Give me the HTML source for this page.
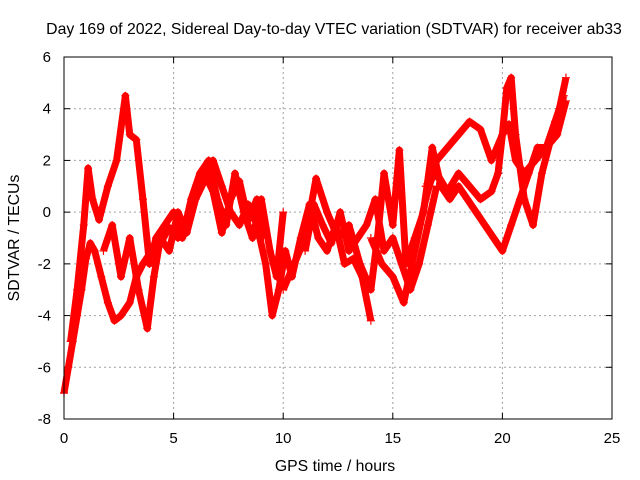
<!DOCTYPE html>
<html><head><meta charset="utf-8"><style>
body{margin:0;background:#fff;}
svg{display:block;font-family:"Liberation Sans",sans-serif;}
</style></head><body>
<svg id="chart" width="640" height="480" viewBox="0 0 640 480">
<rect width="640" height="480" fill="#fff"/>
<text x="334" y="34" font-size="15.8" text-anchor="middle">Day 169 of 2022, Sidereal Day-to-day VTEC variation (SDTVAR) for receiver ab33</text>
<text x="19" y="238" font-size="15.8" text-anchor="middle" transform="rotate(-90 19 238)">SDTVAR / TECUs</text>
<text x="335" y="471" font-size="15.8" text-anchor="middle">GPS time / hours</text>
<g id="grid"></g>
<g id="ticks"></g>
<g id="marks"></g>
<rect x="64" y="57" width="548" height="362" fill="none" stroke="#000" stroke-width="1"/>
</svg>
<script>
const xTicks=[0,5,10,15,20,25];
const yTicks=[-8,-6,-4,-2,0,2,4,6];
const t1=[0,0.2,0.4,0.6,0.8,1.0,1.2,1.4,1.7,2.0,2.3,2.6,3.0,3.3,3.6,4.0,4.4,4.8,5.2,5.6,6.0,6.4,6.8,7.2,7.6,8.0,8.4,8.8,9.2,9.5,9.8,10.1,10.4,10.8,11.2,11.6,12.0,12.4,12.8,13.2,13.6,14.0];
const v1=[-7,-6,-5,-4,-3,-1.8,-1.2,-1.5,-2.5,-3.5,-4.2,-4,-3.5,-2.5,-2,-1.5,-1.2,-0.6,-1,-0.3,0.5,1.2,2,1,0,-0.5,0.3,-0.5,-2,-4,-3,-1.5,-2.5,-1,0.3,-1,-1.5,-0.5,-2,-1.8,-2.5,-4.2];
const t2=[0.3,0.6,0.9,1.1,1.3,1.6,2.0,2.4,2.8,3.0,3.3,3.6,3.9,4.2,4.6,5.0,5.4,5.8,6.2,6.6,7.0,7.4,7.8,8.2,8.6,9.0,9.4,9.7,10.0];
const v2=[-5,-3,-0.5,1.7,0.5,-0.3,1,2,4.5,3,2.8,0.5,-2,-1,-0.5,0,-1,0.5,1.5,2,0.5,-0.5,1.5,0,-1,0.5,-1.5,-2.5,0];
const t3=[10,10.5,11,11.5,12,12.5,13,13.5,14,14.3,14.6,15,15.3,15.6,16,16.4,16.8,17.2,17.6,18,18.4,18.8,19.2,19.6,20,20.4,20.8,21.2,21.6,22,22.4,22.8];
const v3=[-3,-2,-1,1.3,0,-1,-0.5,-2,-3,-1,1.5,-0.5,2.4,-2,-1,0,2.5,1,0.5,1,0.5,0,-0.5,-1,-1.5,-0.5,0.5,1.5,2.5,2.5,3.5,4.5];
const t4=[14,14.5,15,15.5,16,16.5,17,17.5,18,18.5,19,19.5,20,20.3,20.6,21,21.5,22,22.5,22.9];
const v4=[-1,-2,-2.5,-3.5,-1.5,0.5,2,2.5,3,3.5,3.2,2,3,3.4,2,1.5,2,2.5,3,4.3];
const t5=[16.5,17,17.5,18,18.5,19,19.5,19.8,20,20.2,20.4,20.6,21,21.4,21.8,22.2,22.6,22.9];
const v5=[1,1.5,0.8,1.5,1,0.5,0.8,1.5,3,4.8,5.2,3,0.5,-0.5,1.5,2.8,4,5.2];
const t6=[1.8,2.2,2.6,3.0,3.4,3.8,4.1,4.4,4.8,5.2,5.6,6.0,6.4,6.8,7.2,7.6,8.0,8.4,8.8,9.1];
const v6=[-1.5,-0.5,-2.5,-1,-3,-4.5,-2.5,-1,-1.5,0,-0.8,0.5,1.5,0.8,-0.8,0.5,1.2,-0.3,0.5,-1];
const t7=[11,11.4,11.8,12.2,12.6,13,13.4,13.8,14.2,14.6,15,15.4,15.8,16.2,16.6,17];
const v7=[-1.5,0.3,-0.5,-1.2,0,-1.5,-1,-0.5,0.5,-1.5,-1,-2,-3,-2,-0.5,1];

const X0=64,X1=612,Y0=419,Y1=57;
const xs=t=>X0+(t-0)/(25-0)*(X1-X0);
const ys=v=>Y0-(v+8)/(14)*(Y0-Y1);
const NS="http://www.w3.org/2000/svg";
function mk(tag,parent,attrs){const e=document.createElementNS(NS,tag);for(const k in attrs)e.setAttribute(k,attrs[k]);parent.appendChild(e);return e;}
const grid=document.getElementById('grid'),ticks=document.getElementById('ticks'),marks=document.getElementById('marks');
xTicks.forEach(t=>{
  const x=xs(t);
  if(t>0&&t<25){const g=mk('line',grid,{x1:x,x2:x,y1:Y1,y2:Y0,stroke:'#a0a0a0','stroke-dasharray':'2,3'});
  
  }
  mk('line',ticks,{x1:x,x2:x,y1:Y0,y2:Y0-6,stroke:'#000'});
  mk('line',ticks,{x1:x,x2:x,y1:Y1,y2:Y1+6,stroke:'#000'});
  const l=mk('text',ticks,{x:x,y:Y0+24,'font-size':15,'text-anchor':'middle'});l.textContent=t;
  
  
});
yTicks.forEach(v=>{
  const y=ys(v);
  if(v>-8&&v<6){const g=mk('line',grid,{x1:X0,x2:X1,y1:y,y2:y,stroke:'#a0a0a0','stroke-dasharray':'2,3'});
  
  }
  mk('line',ticks,{x1:X0,x2:X0+6,y1:y,y2:y,stroke:'#000'});
  mk('line',ticks,{x1:X1,x2:X1-6,y1:y,y2:y,stroke:'#000'});
  const l=mk('text',ticks,{x:X0-13,y:y+5,'font-size':15,'text-anchor':'end'});l.textContent=v;
  
  
});
const series=[[t1,v1],[t2,v2],[t3,v3],[t4,v4],[t5,v5],[t6,v6],[t7,v7]];
series.forEach((s,i)=>{
  const [T,V]=s;
  const p=mk('polyline',marks,{points:T.map((t,j)=>xs(t)+','+ys(V[j])).join(' '),fill:'none',stroke:'#f00','stroke-width':7,'stroke-linejoin':'round'});
  
  
  T.forEach((t,j)=>{
    const x=xs(t),y=ys(V[j]);
    const m=mk('path',marks,{d:`M${x-4},${y}H${x+4}M${x},${y-4}V${y+4}`,stroke:'#f00','stroke-width':1.2});
    
    
  });
});
</script>
</body></html>
